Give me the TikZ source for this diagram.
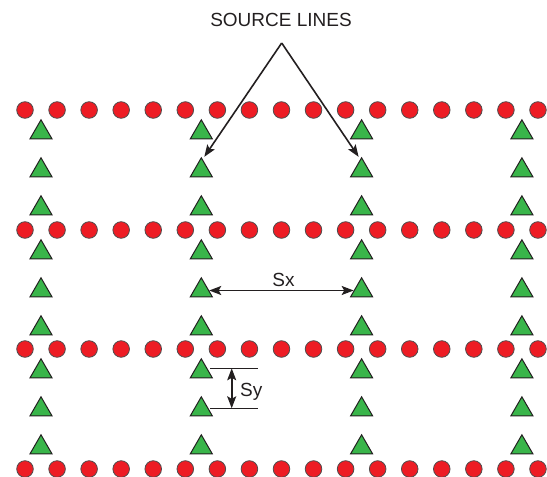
\documentclass[tikz,border=0pt]{standalone}
\usepackage{fontspec}
\setmainfont{Liberation Sans}
\usetikzlibrary{shapes.geometric,arrows.meta,calc}
\definecolor{dotred}{HTML}{ED1C24}
\definecolor{trigreen}{HTML}{39B54A}
\definecolor{edgegray}{HTML}{231F20}
\tikzset{
  rcv/.style={circle,fill=dotred,draw=edgegray!80,line width=0.8pt,minimum size=16.6pt,inner sep=0pt},
  src/.style={regular polygon,regular polygon sides=3,fill=trigreen,draw=edgegray,line width=1pt,minimum size=25.4pt,inner sep=0pt},
  conn/.style={line width=1.6pt,draw=edgegray},
  hd/.tip={Stealth[length=12pt,width=9pt,inset=2.5pt]},
  tip/.style={-hd},
  lbl/.style={font=\fontsize{19}{22}\selectfont,text=edgegray,inner sep=0pt}
}
\begin{document}
\begin{tikzpicture}[x=1pt,y=-1pt]
\useasboundingbox (0,0) rectangle (547,477);
% receiver circles
\foreach \r/\yy in {1/110,2/230,3/349,4/469}{
  \foreach \k in {0,...,16}{
    \node[rcv] (c\r-\k) at ({25+32.06*\k},\yy) {};
  }
}
% source triangles
\foreach \c/\xx in {1/41,2/201.3,3/361.6,4/521.9}{
  \foreach \b/\yy in {0/110,1/230,2/349}{
    \foreach \j in {1,2,3}{
      \pgfmathtruncatemacro{\i}{3*\b+\j}
      \node[src] (t\c\i) at (\xx,{\yy+22.5+38*(\j-1)}) {};
    }
  }
}
% source lines label
\node[lbl,anchor=base] (title) at (281,26.7) {SOURCE LINES};
\coordinate (apex) at (281.7,43);
\coordinate (tipL) at ($(t22.corner 1)+(3,0)$);
\coordinate (tipR) at ($(t32.corner 1)+(-3,0)$);
\draw[conn,tip] (apex) -- (tipL);
\draw[conn,tip] (apex) -- (tipR);
% Sx
\draw[conn,hd-hd] (t25) -- (t35);
\node[lbl,anchor=base] (sx) at (283.5,286.7) {Sx};
% Sy
\coordinate (sy1a) at (210,368.3);
\coordinate (sy1b) at (258,368.3);
\coordinate (sy2a) at (210,408.3);
\coordinate (sy2b) at (258,408.3);
\coordinate (syt) at (231.7,368.3);
\coordinate (syb) at (231.7,408.3);
\draw[conn] (sy1a) -- (sy1b);
\draw[conn] (sy2a) -- (sy2b);
\draw[conn,hd-hd] (syt) -- (syb);
\node[lbl,anchor=base west] (sy) at (240,396.7) {Sy};
\end{tikzpicture}
\end{document}
